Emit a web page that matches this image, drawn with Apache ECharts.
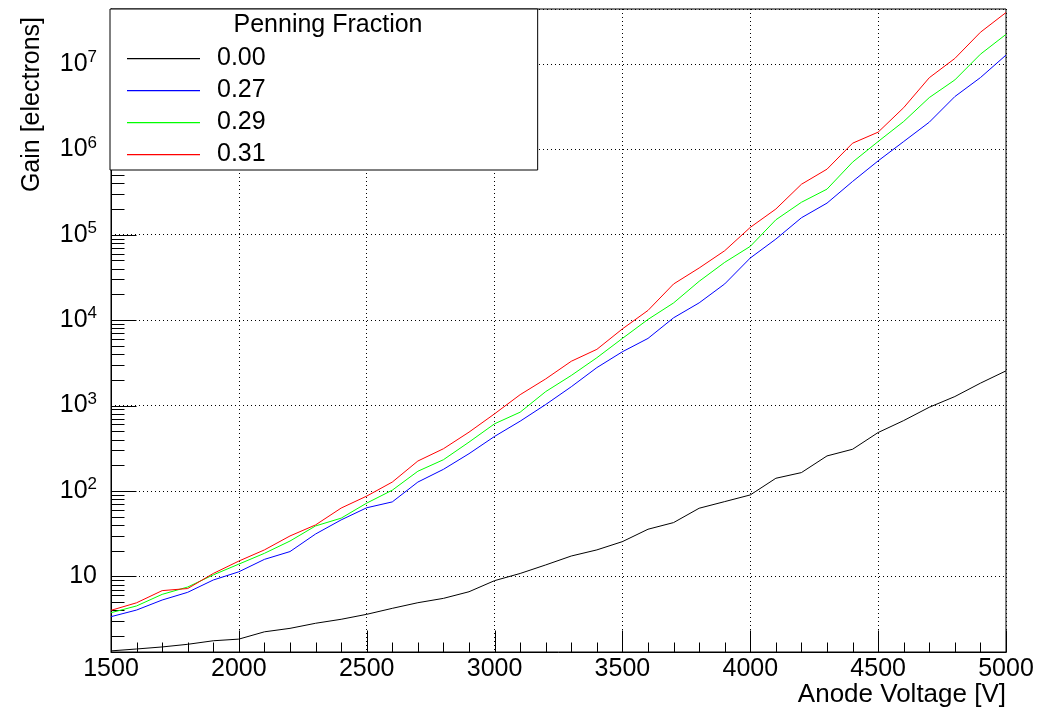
<!DOCTYPE html>
<html><head><meta charset="utf-8">
<script src="https://cdn.jsdelivr.net/npm/echarts@6/dist/echarts.min.js"></script>
<style>html,body{margin:0;padding:0;background:#fff}#c{width:1057px;height:709px}</style>
</head><body><div id="c"></div>
<script>
// ---- data ----
const voltages = [1500,1600,1700,1800,1900,2000,2100,2200,2300,2400,2500,2600,2700,2800,2900,3000,3100,3200,3300,3400,3500,3600,3700,3800,3900,4000,4100,4200,4300,4400,4500,4600,4700,4800,4900,5000];
const gain000 = [1.34,1.41,1.49,1.6,1.76,1.84,2.24,2.46,2.82,3.14,3.59,4.22,4.91,5.52,6.6,8.9,10.8,13.6,17.3,20.4,25.5,35.6,42.6,62.7,75,89.8,140.7,164,257,307.6,483,667,955,1274,1828,2547];
const gain027 = [3.37,4.03,5.28,6.5,9.06,11.3,15.8,19.5,31.3,45.8,63.5,74.4,127,179,273,435,656,1028,1660,2780,4266,6110,10650,15930,26550,53430,88930,158000,234600,420500,733000,1.235e6,2.08e6,4.15e6,6.92e6,1.27e7];
const gain029 = [3.75,4.5,6.15,7.5,10.4,13.9,18.6,25.9,38.9,48,72,102,170,232,373,611,836,1456,2250,3630,6110,10200,15900,28500,47500,73100,149600,240000,342000,708000,1.235e6,2.12e6,4.04e6,6.5e6,1.3e7,2.22e7];
const gain031 = [4.0,4.9,6.8,7.2,10.8,15.1,20.4,29.7,40,63,87,127,224,312,488,800,1340,2050,3300,4550,7900,13000,26500,40800,65000,122000,200000,390000,586000,1.18e6,1.59e6,3.08e6,6.9e6,1.16e7,2.35e7,4.0e7];
const seriesNames = ['0.00','0.27','0.29','0.31'];
const seriesValues = [gain000, gain027, gain029, gain031];
const seriesColors = ['#000000','#0000ff','#00ff00','#ff0000'];
const legendTitle = 'Penning Fraction';
const xTitle = 'Anode Voltage [V]';
const yTitle = 'Gain [electrons]';
const xMin = 1500, xMax = 5000, xStep = 500, xMinorStep = 100;
const yMin = 1.3, yMax = 4.4e7;

const FONT = 'Liberation Sans, Arial, Helvetica, sans-serif';
const chart = echarts.init(document.getElementById('c'), null, {renderer:'canvas'});

const series = seriesNames.map((name, i) => ({
  name, type:'line', symbol:'none', showSymbol:false, animation:false,
  color: seriesColors[i],
  lineStyle:{color: seriesColors[i], width:1},
  itemStyle:{color: seriesColors[i]},
  data: voltages.map((v, j) => [v, seriesValues[i][j]])
}));

chart.setOption({
  animation:false,
  backgroundColor:'#ffffff',
  textStyle:{fontFamily:FONT},
  grid:{left:111, right:51, top:9, bottom:57, show:true, borderColor:'#000', borderWidth:1, backgroundColor:'transparent'},
  xAxis:{
    type:'value', min:xMin, max:xMax, interval:xStep,
    axisLine:{show:true, lineStyle:{color:'#000', width:1}},
    axisTick:{show:false},
    minorTick:{show:false},
    axisLabel:{color:'#000', fontSize:25, fontFamily:FONT, margin:5, formatter: v => String(v)},
    splitLine:{show:true, lineStyle:{color:'#000', type:[1,3], width:1}},
    name:xTitle, nameLocation:'end', nameGap:0,
    nameTextStyle:{color:'#000', fontSize:26, fontFamily:FONT, align:'right', verticalAlign:'top', padding:[30,0,0,0]}
  },
  yAxis:{
    type:'log', logBase:10, min:yMin, max:yMax,
    axisLine:{show:true, lineStyle:{color:'#000', width:1}},
    axisTick:{show:false},
    minorTick:{show:false},
    axisLabel:{
      color:'#000', margin:14, showMinLabel:false, showMaxLabel:false,
      formatter: function(v){
        const l = Math.log10(v), e = Math.round(l);
        if (Math.abs(l - e) > 1e-6) return '';
        if (e === 0) return '{b|1}';
        if (e === 1) return '{b|10}';
        return '{b|10}{s|' + e + '}';
      },
      rich:{
        b:{fontSize:25, lineHeight:30, fontFamily:FONT, color:'#000'},
        s:{fontSize:17, lineHeight:17, fontFamily:FONT, color:'#000', verticalAlign:'top'}
      }
    },
    splitLine:{show:true, lineStyle:{color:'#000', type:[1,3], width:1}},
    name:yTitle, nameLocation:'end', nameGap:-8, nameRotate:90,
    nameTextStyle:{color:'#000', fontSize:25, fontFamily:FONT, align:'right', verticalAlign:'bottom', padding:[0,0,66,0]}
  },
  legend:{
    show:true, orient:'vertical', left:110, top:9, z:6,
    data: seriesNames,
    selectedMode:false,
    icon:'path://M0,0L0,0M0,12H73V13.2H0ZM73,25L73,25',
    itemWidth:73, itemHeight:25, itemGap:7,
    padding:[37,272,3,17],
    borderColor:'#000', borderWidth:1, backgroundColor:'#fff',
    textStyle:{color:'#000', fontSize:25, lineHeight:25, fontFamily:FONT, padding:[0,0,0,12]}
  },
  series
});

// ticks placed through the axis scales (ROOT style, drawn inward), below the legend box
const gfx = [];
const tick = (x1, y1, x2, y2) => gfx.push({type:'line', silent:true, z:3,
  shape:{x1, y1, x2, y2}, style:{stroke:'#000', lineWidth:1}});
const px0 = Math.round(chart.convertToPixel({xAxisIndex:0}, xMin)) + 0.5;
const py0 = Math.round(chart.convertToPixel({yAxisIndex:0}, yMin)) + 0.5;
for (let v = xMin; v <= xMax; v += xMinorStep) {
  const x = Math.round(chart.convertToPixel({xAxisIndex:0}, v)) + 0.5;
  const major = (v - xMin) % xStep === 0;
  tick(x, py0, x, py0 - (major ? 22 : 10));
}
for (let d = 0; d <= 8; d++) {
  for (let k = 1; k <= 9; k++) {
    const v = k * Math.pow(10, d);
    if (v < yMin || v > yMax) continue;
    const y = Math.round(chart.convertToPixel({yAxisIndex:0}, v)) + 0.5;
    tick(px0, y, px0 + (k === 1 ? 25 : 13), y);
  }
}
gfx.push({type:'text', silent:true, z:100, x:328, y:25,
  style:{text:legendTitle, font:'25px ' + FONT, fill:'#000', textAlign:'center', textVerticalAlign:'middle'}});
chart.setOption({graphic:gfx});
</script></body></html>
